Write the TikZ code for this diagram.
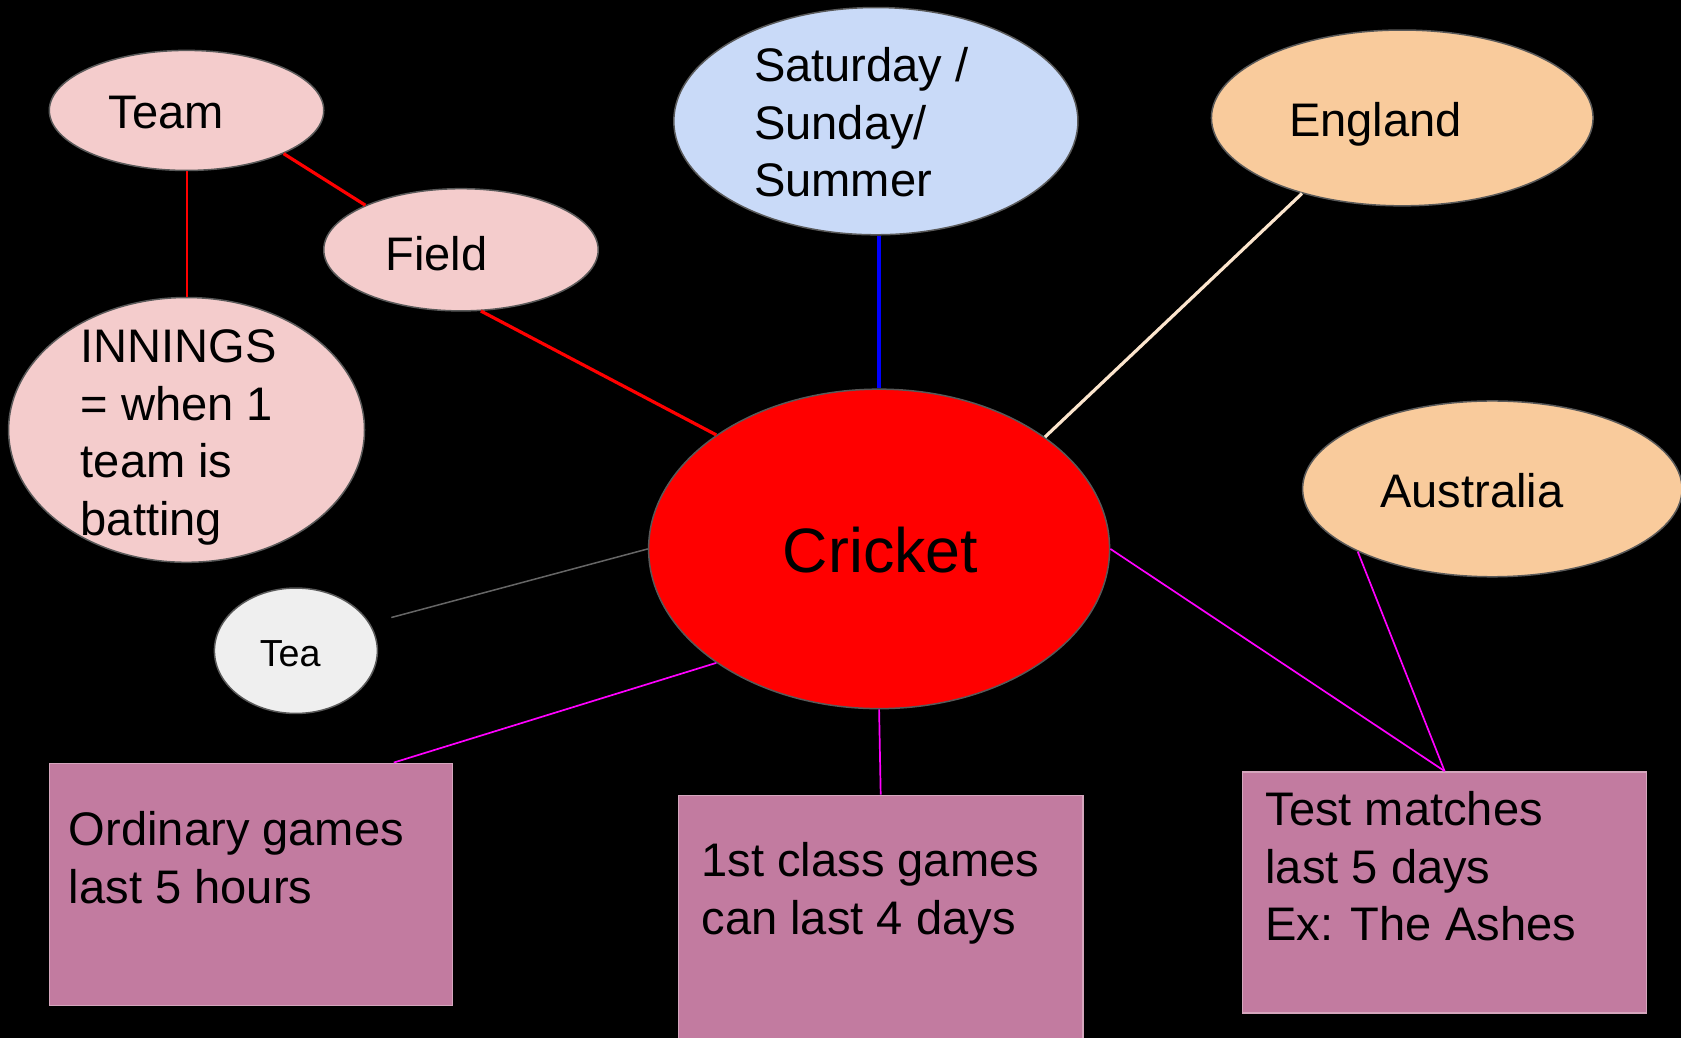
\documentclass[tikz,border=0pt]{standalone}
\usepackage{fontspec}
\setmainfont{Liberation Sans}
\usetikzlibrary{shapes.geometric,calc}
\definecolor{pinkfill}{HTML}{F4CCCC}
\definecolor{bluefill}{HTML}{C9DAF8}
\definecolor{orangefill}{HTML}{F9CB9C}
\definecolor{teafill}{HTML}{EFEFEF}
\definecolor{boxfill}{HTML}{C27BA0}
\definecolor{boxline}{HTML}{D5A6BD}
\definecolor{rimgray}{HTML}{595959}
\definecolor{creamline}{HTML}{FCE5CD}
\definecolor{grayline}{HTML}{666666}
\definecolor{magcol}{HTML}{FF00FF}
\definecolor{bluecol}{HTML}{0000FF}
\definecolor{redcol}{HTML}{FF0000}
\begin{document}
\begin{tikzpicture}[x=0.2mm,y=-0.2mm,
  bub/.style={ellipse,draw=rimgray,line width=0.8pt,inner sep=0pt},
  card/.style={rectangle,draw=boxline,line width=0.8pt,fill=boxfill,inner sep=0pt},
  txt/.style={inner sep=0pt,anchor=base west,text=black,font=\fontsize{25}{30.6}\selectfont},
  thickred/.style={draw=redcol,line width=1.7pt},
  thinred/.style={draw=redcol,line width=1.1pt},
  magline/.style={draw=magcol,line width=0.9pt}]
\clip (0,0) rectangle (1568,968);
\fill[black] (0,0) rectangle (1568,968);
% nodes
\node[bub,fill=pinkfill,minimum width=51.2mm,minimum height=22.4mm] (team) at (174,103) {};
\node[bub,fill=pinkfill,minimum width=51.2mm,minimum height=22.8mm] (field) at (430,233) {};
\node[bub,fill=pinkfill,minimum width=66.4mm,minimum height=49.4mm] (innings) at (174,401) {};
\node[bub,fill=bluefill,minimum width=75.4mm,minimum height=42.4mm] (sat) at (817,113) {};
\node[bub,fill=orangefill,minimum width=71.2mm,minimum height=32.8mm] (england) at (1308,110) {};
\node[bub,fill=orangefill,minimum width=70.8mm,minimum height=32.8mm] (australia) at (1392,456) {};
\node[bub,fill=redcol,minimum width=86mm,minimum height=59.6mm] (cricket) at (820,512) {};
\node[bub,fill=teafill,minimum width=30.4mm,minimum height=23.4mm] (tea) at (276,607) {};
\node[card,minimum width=75.2mm,minimum height=45.2mm] (ord) at (234,825) {};
\node[card,minimum width=75.4mm,minimum height=46.6mm] (first) at (821.5,858.5) {};
\node[card,minimum width=75.4mm,minimum height=45mm] (test) at (1347.5,832.5) {};
\coordinate (teaend) at (365,576);
% connectors
\draw[thickred] (team.-24) -- (field.155.5);
\draw[thinred] (team.south) -- (innings.north);
\draw[thickred] (field.-72) -- (cricket.145);
\draw[draw=bluecol,line width=2pt] (sat.south -| cricket.north) -- (cricket.north);
\draw[draw=creamline,line width=1.7pt] (england.217) -- (cricket.34.5);
\draw[draw=grayline,line width=0.8pt] (teaend) -- (cricket.west);
\draw[magline] (cricket.215) -- ($(ord.north west)+(322,0)$);
\draw[magline] (cricket.south) -- (first.north);
\draw[magline] (cricket.east) -- (test.north);
\draw[magline] (australia.205.4) -- (test.north);
% texts
\node[txt] (teamt) at (101,120) {Team};
\node[txt] (fieldt) at (359,252) {Field};
\node[txt] (inningst) at (75,338) {\parbox[t]{80mm}{\raggedright INNINGS\\= when 1\\team is\\batting}};
\node[txt] (satt) at (703,76) {\parbox[t]{80mm}{\raggedright Saturday /\\Sunday/\\Summer}};
\node[txt] (englandt) at (1202,127) {England};
\node[txt] (australiat) at (1287,473) {Australia};
\node[txt,font=\fontsize{33.3}{40}\selectfont] (crickett) at (730,534) {Cricket};
\node[txt,font=\fontsize{20}{24}\selectfont] (teat) at (242,622) {Tea};
\node[txt] (ordt) at (64,789) {\parbox[t]{80mm}{\raggedright Ordinary games\\last 5 hours}};
\node[txt] (firstt) at (654,818) {\parbox[t]{80mm}{\raggedright 1st class games\\can last 4 days}};
\node[txt] (testt) at (1180,770) {\parbox[t]{80mm}{\raggedright Test matches\\last 5 days\\Ex: The Ashes}};
\end{tikzpicture}
\end{document}
